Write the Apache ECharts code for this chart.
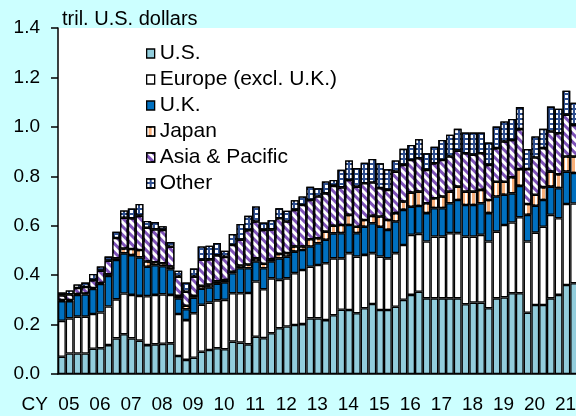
<!DOCTYPE html>
<html>
<head>
<meta charset="UTF-8">
<title></title>
<style>
  html, body { margin: 0; padding: 0; background: #CCFFFF; }
  #chart { width: 576px; height: 416px; }
</style>
</head>
<body>
<div id="chart"></div>
<script src="https://cdn.jsdelivr.net/npm/echarts@6/dist/echarts.min.js"></script>
<script>
// year labels on the x axis, data is quarterly from CY2005 Q1 to CY2021 Q3
var years = ['05', '06', '07', '08', '09', '10', '11', '12', '13', '14', '15', '16', '17', '18', '19', '20', '21'];
var quarters = [];
years.forEach(function (y) {
    ['Q1', 'Q2', 'Q3', 'Q4'].forEach(function (q) { quarters.push(y + q); });
});
quarters = quarters.slice(0, 67);

var legendNames = ['U.S.', 'Europe (excl. U.K.)', 'U.K.', 'Japan', 'Asia & Pacific', 'Other'];

// tril. U.S. dollars
var us = [0.070, 0.083, 0.083, 0.083, 0.102, 0.104, 0.117, 0.144, 0.161, 0.144, 0.135, 0.117,
    0.120, 0.122, 0.124, 0.073, 0.057, 0.066, 0.090, 0.097, 0.104, 0.100, 0.131, 0.127,
    0.120, 0.151, 0.145, 0.165, 0.185, 0.192, 0.198, 0.202, 0.225, 0.225, 0.218, 0.238,
    0.260, 0.259, 0.246, 0.266, 0.283, 0.259, 0.259, 0.272, 0.300, 0.320, 0.333, 0.306,
    0.306, 0.306, 0.306, 0.306, 0.282, 0.289, 0.289, 0.266, 0.306, 0.310, 0.327, 0.327,
    0.248, 0.279, 0.279, 0.306, 0.320, 0.360, 0.367];
var europe = [0.145, 0.142, 0.149, 0.149, 0.141, 0.145, 0.156, 0.158, 0.165, 0.176, 0.181, 0.198,
    0.200, 0.200, 0.196, 0.170, 0.161, 0.180, 0.190, 0.192, 0.194, 0.200, 0.196, 0.200,
    0.208, 0.223, 0.198, 0.222, 0.196, 0.195, 0.210, 0.219, 0.209, 0.216, 0.230, 0.230,
    0.208, 0.230, 0.229, 0.216, 0.206, 0.216, 0.209, 0.217, 0.222, 0.243, 0.234, 0.230,
    0.250, 0.250, 0.264, 0.264, 0.274, 0.267, 0.274, 0.270, 0.270, 0.293, 0.286, 0.307,
    0.288, 0.293, 0.317, 0.338, 0.310, 0.328, 0.323];
var uk = [0.080, 0.070, 0.088, 0.090, 0.101, 0.115, 0.124, 0.159, 0.162, 0.161, 0.156, 0.119,
    0.120, 0.114, 0.104, 0.063, 0.044, 0.063, 0.065, 0.061, 0.067, 0.070, 0.081, 0.101,
    0.100, 0.081, 0.085, 0.068, 0.087, 0.088, 0.087, 0.081, 0.082, 0.088, 0.095, 0.101,
    0.102, 0.114, 0.095, 0.114, 0.121, 0.121, 0.115, 0.128, 0.142, 0.114, 0.113, 0.115,
    0.115, 0.115, 0.121, 0.134, 0.128, 0.128, 0.128, 0.115, 0.142, 0.122, 0.118, 0.127,
    0.108, 0.109, 0.108, 0.114, 0.122, 0.131, 0.123];
var japan = [0.004, 0.004, 0.004, 0.004, 0.004, 0.004, 0.006, 0.007, 0.020, 0.025, 0.030, 0.021,
    0.012, 0.012, 0.011, 0.010, 0.014, 0.007, 0.012, 0.012, 0.010, 0.010, 0.006, 0.011,
    0.015, 0.013, 0.018, 0.010, 0.018, 0.014, 0.021, 0.014, 0.029, 0.020, 0.033, 0.031,
    0.033, 0.041, 0.026, 0.027, 0.030, 0.041, 0.040, 0.034, 0.034, 0.057, 0.058, 0.040,
    0.040, 0.047, 0.047, 0.054, 0.054, 0.054, 0.054, 0.053, 0.060, 0.053, 0.065, 0.068,
    0.044, 0.044, 0.052, 0.061, 0.056, 0.061, 0.067];
var asiaPacific = [0.019, 0.023, 0.024, 0.026, 0.032, 0.050, 0.055, 0.082, 0.124, 0.124, 0.138, 0.137,
    0.133, 0.135, 0.080, 0.078, 0.057, 0.078, 0.105, 0.102, 0.105, 0.094, 0.108, 0.104,
    0.139, 0.149, 0.137, 0.120, 0.144, 0.128, 0.148, 0.168, 0.159, 0.169, 0.155, 0.161,
    0.152, 0.141, 0.162, 0.149, 0.135, 0.115, 0.122, 0.168, 0.148, 0.132, 0.135, 0.135,
    0.142, 0.148, 0.142, 0.146, 0.155, 0.149, 0.148, 0.142, 0.136, 0.163, 0.151, 0.162,
    0.141, 0.151, 0.158, 0.162, 0.166, 0.169, 0.128];
var other = [0.012, 0.016, 0.014, 0.018, 0.025, 0.017, 0.017, 0.026, 0.030, 0.040, 0.048, 0.027,
    0.030, 0.015, 0.019, 0.024, 0.037, 0.033, 0.054, 0.055, 0.050, 0.025, 0.044, 0.064,
    0.058, 0.061, 0.030, 0.037, 0.041, 0.044, 0.039, 0.034, 0.054, 0.034, 0.048, 0.024,
    0.071, 0.079, 0.076, 0.083, 0.095, 0.101, 0.083, 0.045, 0.065, 0.061, 0.077, 0.067,
    0.067, 0.081, 0.088, 0.088, 0.084, 0.090, 0.084, 0.091, 0.087, 0.081, 0.085, 0.089,
    0.081, 0.085, 0.078, 0.101, 0.099, 0.097, 0.090];

var font = 'Liberation Sans, Arial, sans-serif';

var chart = echarts.init(document.getElementById('chart'));

// 系列共通のスタイル
function barSeries(name, data, color, decal) {
    var s = {
        name: name,
        type: 'bar',
        stack: 'total',
        barCategoryGap: '0%',
        data: data,
        itemStyle: {
            color: color,
            borderColor: '#000',
            borderWidth: 1.3
        }
    };
    if (decal) s.itemStyle.decal = decal;
    return s;
}

var option = {
    backgroundColor: '#CCFFFF',
    animation: false,
    grid: {
        left: 58,
        top: 28,
        right: -2,
        bottom: 42,
        outerBoundsMode: 'none',
        containLabel: false,
        show: true,
        backgroundColor: '#fff',
        borderWidth: 0
    },
    legend: {
        data: legendNames,
        orient: 'vertical',
        left: 146,
        top: 43,
        padding: 0,
        itemWidth: 8,
        itemHeight: 9,
        itemGap: 5,
        icon: 'rect',
        itemStyle: { borderColor: '#000', borderWidth: 1.3 },
        textStyle: { fontFamily: font, fontSize: 21, lineHeight: 20, color: '#000' }
    },
    xAxis: {
        type: 'category',
        data: quarters,
        name: 'CY',
        nameLocation: 'start',
        nameGap: 10,
        nameMoveOverlap: false,
        nameTextStyle: { fontFamily: font, fontSize: 19, color: '#000', align: 'right', verticalAlign: 'top', padding: [21, 0, 0, 0] },
        axisLine: { lineStyle: { color: '#000', width: 1.5 } },
        axisTick: { interval: 3, length: 7, lineStyle: { color: '#000', width: 1.5 } },
        axisLabel: {
            interval: 3,
            formatter: function (v) { return v.slice(0, 2); },
            fontFamily: font,
            fontSize: 19,
            color: '#000',
            margin: 21,
            padding: [0, 0, 0, 14]
        },
        splitLine: { show: false }
    },
    yAxis: {
        type: 'value',
        min: 0,
        max: 1.4,
        interval: 0.2,
        name: 'tril. U.S. dollars',
        nameLocation: 'end',
        nameGap: 9,
        nameMoveOverlap: false,
        nameTextStyle: { fontFamily: font, fontSize: 20, color: '#000', align: 'left', verticalAlign: 'middle', padding: [0, 0, 0, 4] },
        axisLine: { show: true, lineStyle: { color: '#000', width: 1.5 } },
        axisTick: { show: true, length: 7, lineStyle: { color: '#000', width: 1.5 } },
        axisLabel: {
            formatter: function (v) { return v.toFixed(1); },
            fontFamily: font,
            fontSize: 19,
            color: '#000',
            margin: 18
        },
        splitLine: { show: false }
    },
    series: [
        barSeries('U.S.', us, '#92CDDC'),
        barSeries('Europe (excl. U.K.)', europe, '#FFFFFF'),
        barSeries('U.K.', uk, '#0070C0'),
        barSeries('Japan', japan, '#F9B07A', {
            symbol: 'rect', symbolSize: 1, color: '#FFFFFF',
            dashArrayX: [2, 3], dashArrayY: [4, 0]
        }),
        barSeries('Asia & Pacific', asiaPacific, '#7E52B8', {
            symbol: 'rect', symbolSize: 1, color: '#FFFFFF',
            dashArrayX: [2.5, 2.5], dashArrayY: [4, 0], rotation: -Math.PI / 4
        }),
        barSeries('Other', other, '#2E4E8E', {
            symbol: 'rect', symbolSize: 1, color: '#FFFFFF',
            dashArrayX: [3, 1.2], dashArrayY: [3, 1.2]
        })
    ]
};

chart.setOption(option);
</script>
</body>
</html>
